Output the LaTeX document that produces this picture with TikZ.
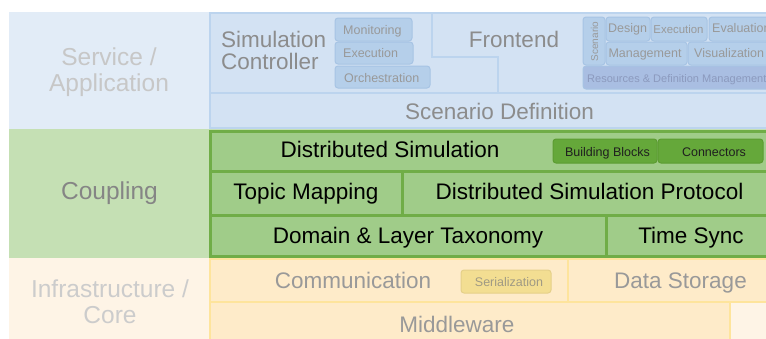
\documentclass[tikz,border=0pt]{standalone}
\usepackage{fontspec}
\setmainfont{Liberation Sans}

\definecolor{svcback}{HTML}{E2ECF7}
\definecolor{svcfill}{HTML}{D3E2F3}
\definecolor{svcline}{HTML}{BCD4EE}
\definecolor{svcsub}{HTML}{B5CFEA}
\definecolor{svcsubline}{HTML}{A7C4E4}
\definecolor{resfill}{HTML}{A9BEE2}
\definecolor{cplback}{HTML}{C5E0B4}
\definecolor{cplfill}{HTML}{A0CC89}
\definecolor{cplline}{HTML}{70AD47}
\definecolor{cplsub}{HTML}{65A83A}
\definecolor{cplsubline}{HTML}{5C9C32}
\definecolor{infback}{HTML}{FEF4E6}
\definecolor{inffill}{HTML}{FEEBC9}
\definecolor{infline}{HTML}{FEE49C}
\definecolor{infsub}{HTML}{F3DE92}
\definecolor{infsubline}{HTML}{E5D089}

\tikzset{
  layername/.style={font=\fontsize{24.5}{25.5}\selectfont, align=center, inner sep=0pt, anchor=base},
  bigtext/.style={font=\fontsize{22.5}{22}\selectfont, inner sep=0pt, anchor=base},
  smalltext/.style={font=\fontsize{12.5}{13}\selectfont, inner sep=0pt, anchor=base},
  svcbox/.style={draw=svcline, fill=svcfill, line width=2pt},
  svcsmall/.style={draw=svcsubline, fill=svcsub, line width=1pt, rounded corners=3pt},
  cplbox/.style={draw=cplline, fill=cplfill, line width=3pt},
  cplsmall/.style={draw=cplsubline, fill=cplsub, line width=1pt, rounded corners=3pt},
  infbox/.style={draw=infline, fill=inffill, line width=2.5pt},
  infsmall/.style={draw=infsubline, fill=infsub, line width=1pt, rounded corners=3pt}
}

\begin{document}
\begin{tikzpicture}[x=1pt, y=-1pt]
  \useasboundingbox (0,0) rectangle (766,338);
  \clip (0,0) rectangle (766,338);

  % layer bands
  \fill[svcback] (9,12) rectangle (780,129);
  \fill[cplback] (9,129) rectangle (780,258);
  \fill[infback] (9,258) rectangle (780,345);
  \node[layername, text=black!22] (service) at (109,91) {Service /\\Application};
  \node[layername, text=black!48] (coupling) at (109.5,199) {Coupling};
  \node[layername, text=black!20] (infra) at (110,323) {Infrastructure /\\Core};

  % service / application
  \draw[svcbox] (210,13) -- (432,13) -- (432,57) -- (498,57) -- (498,93) -- (210,93) -- cycle;
  \draw[svcbox] (432,13) -- (780,13) -- (780,93) -- (498,93) -- (498,57) -- (432,57) -- cycle;
  \draw[svcbox] (210,93) rectangle (780,128);
  \node[bigtext, anchor=base west, align=left, text=black!45] (simctrl) at (221,69) {Simulation\\Controller};
  \node[bigtext, text=black!45] (frontend) at (514,47) {Frontend};
  \node[bigtext, text=black!45] (scendef) at (499.5,119) {Scenario Definition};

  \draw[svcsmall] (335,18) rectangle (412,41);
  \draw[svcsmall] (335,42) rectangle (413,64);
  \draw[svcsmall] (335,66) rectangle (430,88);
  \node[smalltext, anchor=base west, text=black!40] (monitor) at (343,34) {Monitoring};
  \node[smalltext, anchor=base west, text=black!40] (exec) at (343,57) {Execution};
  \node[smalltext, anchor=base west, text=black!40] (orch) at (344,82) {Orchestration};

  \draw[svcsmall] (583,17) rectangle (605,65);
  \draw[svcsmall] (606,17) rectangle (650,41);
  \draw[svcsmall] (651,17) rectangle (707,41);
  \draw[svcsmall] (709,17) rectangle (790,41);
  \draw[svcsmall] (606,42) rectangle (687,65);
  \draw[svcsmall] (688,42) rectangle (790,65);
  \draw[svcsmall, fill=resfill] (583,66) rectangle (790,89);
  \node[font=\fontsize{10}{10}\selectfont, inner sep=0pt, rotate=90, text=black!40] (scenario) at (594.5,41.5) {Scenario};
  \node[smalltext, text=black!40] (design) at (627.5,32) {Design};
  \node[smalltext, font=\fontsize{11.4}{12}\selectfont, text=black!40] (scenexec) at (678.5,33) {Execution};
  \node[smalltext, anchor=base west, text=black!40] (evaluation) at (712,32) {Evaluation};
  \node[smalltext, text=black!40] (management) at (645,57) {Management};
  \node[smalltext, anchor=base west, text=black!40] (visual) at (694,57) {Visualization};
  \node[smalltext, anchor=base west, font=\fontsize{11}{12}\selectfont, text={rgb,255:red,140;green,154;blue,190}] (resources) at (587,82) {Resources \& Definition Management};

  % coupling
  \draw[cplbox] (210,131) rectangle (780,171);
  \draw[cplbox] (210,171) rectangle (402,215);
  \draw[cplbox] (402,171) rectangle (780,215);
  \draw[cplbox] (210,215) rectangle (606,256);
  \draw[cplbox] (606,215) rectangle (780,256);
  \node[bigtext] (distsim) at (390,157) {Distributed Simulation};
  \node[bigtext] (topicmap) at (306,199) {Topic Mapping};
  \node[bigtext] (protocol) at (589.5,199) {Distributed Simulation Protocol};
  \node[bigtext] (taxonomy) at (408,243) {Domain \& Layer Taxonomy};
  \node[bigtext] (timesync) at (691,243) {Time Sync};

  \draw[cplsmall] (553,139) rectangle (657,163);
  \draw[cplsmall] (658,139) rectangle (763,163);
  \node[smalltext, text=black!88] (blocks) at (607.5,156) {Building Blocks};
  \node[smalltext, text=black!88] (connectors) at (714,156) {Connectors};

  % infrastructure / core
  \draw[infbox] (210,259) rectangle (568,302);
  \draw[infbox] (568,259) rectangle (780,302);
  \draw[infbox] (210,302) rectangle (730,350);
  \node[bigtext, text=black!40] (comm) at (353,288) {Communication};
  \node[bigtext, text=black!40] (storage) at (680.5,288) {Data Storage};
  \node[bigtext, text=black!40] (middleware) at (457,332) {Middleware};

  \draw[infsmall] (461,270) rectangle (551,293);
  \node[smalltext, text={rgb,255:red,160;green,154;blue,132}] (serial) at (509,286) {Serialization};
\end{tikzpicture}
\end{document}
